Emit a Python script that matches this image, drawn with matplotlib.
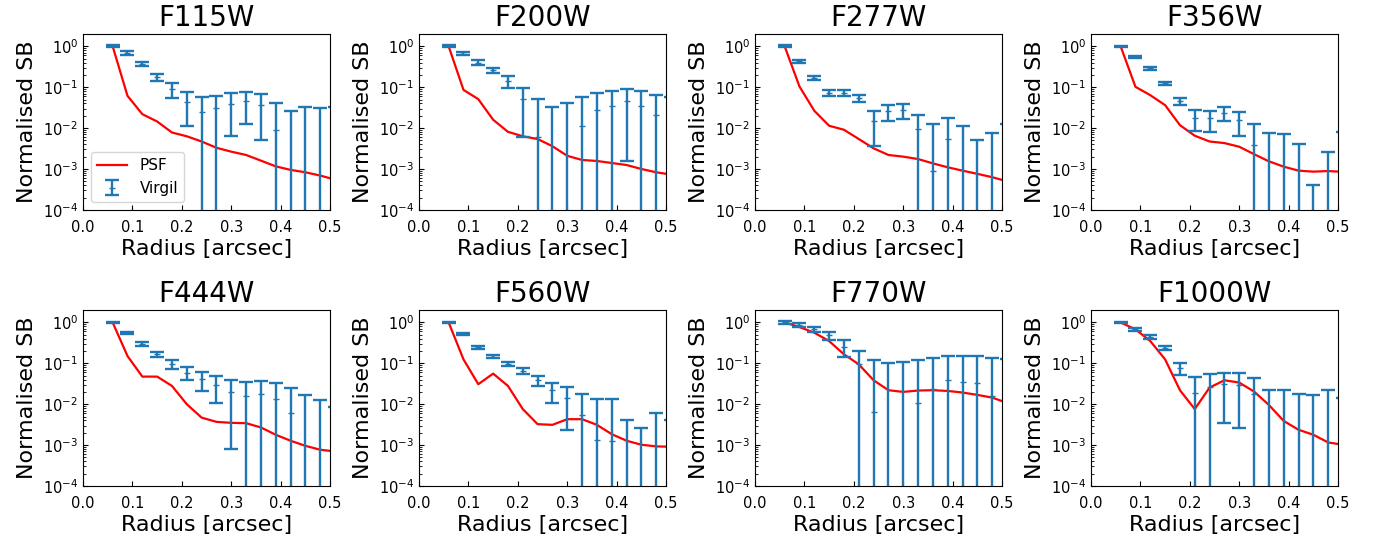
import numpy as np
import matplotlib
matplotlib.use("Agg")
import matplotlib.pyplot as plt

# radial bins [arcsec]
radius = [0.06, 0.09, 0.12, 0.15, 0.18, 0.21, 0.24, 0.27, 0.30, 0.33, 0.36, 0.39, 0.42, 0.45, 0.48, 0.51]

filters = ["F115W", "F200W", "F277W", "F356W", "F444W", "F560W", "F770W", "F1000W"]

# normalised PSF profiles
psf_f115w = [1.0, 0.0615, 0.0219, 0.0145, 0.0078, 0.0063, 0.0047, 0.0033, 0.00265, 0.0022, 0.0016, 0.00116, 0.00095, 0.00083, 0.00069, 0.00055]
psf_f200w = [1.0, 0.086, 0.051, 0.016, 0.0081, 0.0063, 0.0054, 0.0036, 0.0021, 0.00166, 0.00157, 0.0014, 0.00125, 0.001, 0.00083, 0.00073]
psf_f277w = [1.0, 0.104, 0.0265, 0.0114, 0.0091, 0.0054, 0.0032, 0.0022, 0.002, 0.00175, 0.00137, 0.0011, 0.00091, 0.00076, 0.00063, 0.0005]
psf_f356w = [1.0, 0.102, 0.0638, 0.0364, 0.0118, 0.0065, 0.0047, 0.0043, 0.0035, 0.0023, 0.00154, 0.00114, 0.00091, 0.00086, 0.00089, 0.00085]
psf_f444w = [1.0, 0.151, 0.0473, 0.0473, 0.028, 0.010, 0.0047, 0.0037, 0.0035, 0.00344, 0.0027, 0.00179, 0.00128, 0.00096, 0.00077, 0.0007]
psf_f560w = [1.0, 0.125, 0.0308, 0.056, 0.028, 0.0076, 0.00325, 0.00313, 0.0043, 0.0043, 0.00313, 0.00185, 0.00128, 0.00102, 0.00093, 0.00091]
psf_f770w = [1.0, 0.77, 0.56, 0.35, 0.166, 0.0946, 0.0385, 0.022, 0.020, 0.0216, 0.022, 0.0211, 0.0193, 0.0169, 0.0145, 0.0108]
psf_f1000w = [1.0, 0.675, 0.35, 0.125, 0.022, 0.0076, 0.0255, 0.0385, 0.0338, 0.0204, 0.0096, 0.0039, 0.00237, 0.00179, 0.00116, 0.00102]

# Virgil profiles and their errors
vir_f115w = [1.0, 0.70, 0.378, 0.179, 0.089, 0.044, 0.025, 0.0308, 0.0385, 0.0447, 0.037, 0.0091, -0.006, -0.001, -0.002, -0.001]
err_f115w = [0.05, 0.07, 0.045, 0.036, 0.036, 0.033, 0.031, 0.031, 0.032, 0.032, 0.032, 0.033, 0.0315, 0.033, 0.033, 0.033]
vir_f200w = [1.0, 0.662, 0.40, 0.26, 0.143, 0.051, 0.0061, -0.012, -0.002, 0.011, 0.028, 0.035, 0.0456, 0.035, 0.0211, 0.012]
err_f200w = [0.05, 0.065, 0.056, 0.042, 0.046, 0.045, 0.045, 0.044, 0.044, 0.045, 0.045, 0.045, 0.044, 0.045, 0.044, 0.044]
vir_f277w = [1.0, 0.43, 0.172, 0.074, 0.074, 0.054, 0.0151, 0.0255, 0.0275, 0.0095, 0.00091, 0.0054, -0.0005, -0.006, -0.004, 0.001]
err_f277w = [0.05, 0.04, 0.02, 0.012, 0.012, 0.011, 0.0114, 0.011, 0.011, 0.011, 0.0116, 0.0118, 0.0115, 0.0112, 0.0115, 0.0115]
vir_f356w = [1.0, 0.55, 0.29, 0.125, 0.0447, 0.018, 0.0172, 0.024, 0.0157, 0.0038, -0.001, -0.0015, -0.0045, -0.0082, -0.006, -0.0008]
err_f356w = [0.04, 0.02, 0.02, 0.012, 0.009, 0.0095, 0.0092, 0.009, 0.0094, 0.0087, 0.0085, 0.0087, 0.0086, 0.0086, 0.0086, 0.0086]
vir_f444w = [1.0, 0.56, 0.30, 0.166, 0.0946, 0.0592, 0.041, 0.030, 0.0204, 0.016, 0.0182, 0.0137, 0.006, -0.0025, -0.0065, -0.0104]
err_f444w = [0.05, 0.03, 0.03, 0.023, 0.023, 0.021, 0.02, 0.019, 0.0196, 0.019, 0.019, 0.019, 0.0195, 0.019, 0.019, 0.019]
vir_f560w = [1.0, 0.51, 0.25, 0.145, 0.098, 0.065, 0.039, 0.0224, 0.014, 0.0055, 0.00132, 0.00123, -0.008, -0.0094, -0.006, -0.008]
err_f560w = [0.05, 0.03, 0.02, 0.013, 0.012, 0.011, 0.011, 0.0115, 0.0117, 0.012, 0.0119, 0.012, 0.012, 0.012, 0.012, 0.012]
vir_f770w = [1.0, 0.86, 0.675, 0.48, 0.257, 0.0946, 0.0065, -0.008, -0.005, 0.0106, 0.024, 0.0385, 0.0357, 0.0338, 0.016, 0.01]
err_f770w = [0.08, 0.1, 0.1, 0.1, 0.114, 0.105, 0.112, 0.112, 0.112, 0.11, 0.113, 0.113, 0.112, 0.114, 0.116, 0.115]
vir_f1000w = [1.0, 0.675, 0.447, 0.241, 0.078, 0.0193, 0.027, 0.0305, 0.0296, 0.0175, -0.005, -0.005, -0.009, -0.010, -0.005, -0.013]
err_f1000w = [0.05, 0.06, 0.05, 0.03, 0.025, 0.027, 0.027, 0.027, 0.027, 0.027, 0.027, 0.027, 0.027, 0.027, 0.027, 0.027]

psfs = [psf_f115w, psf_f200w, psf_f277w, psf_f356w, psf_f444w, psf_f560w, psf_f770w, psf_f1000w]
virs = [vir_f115w, vir_f200w, vir_f277w, vir_f356w, vir_f444w, vir_f560w, vir_f770w, vir_f1000w]
errs = [err_f115w, err_f200w, err_f277w, err_f356w, err_f444w, err_f560w, err_f770w, err_f1000w]

fig, axes = plt.subplots(2, 4, figsize=(13.79, 5.37), dpi=100)
fig.subplots_adjust(left=0.0602, right=0.9703, top=0.9367, bottom=0.095, wspace=0.36, hspace=0.57)

for i, ax in enumerate(axes.flat):
    ax.plot(radius, psfs[i], color="red", lw=1.6, label="PSF")
    ax.errorbar(radius, virs[i], yerr=errs[i], fmt="_", ms=5, color="#1f77b4",
                elinewidth=1.7, capsize=5, capthick=1.7, label="Virgil")
    ax.set_yscale("log")
    ax.set_ylim(1e-4, 2)
    ax.set_xlim(0, 0.5)
    ax.set_xticks([0.0, 0.1, 0.2, 0.3, 0.4, 0.5])
    ax.set_yticks([1e-4, 1e-3, 1e-2, 1e-1, 1e0])
    ax.tick_params(which="both", direction="in", labelsize=10.5)
    ax.tick_params(axis="x", pad=7)
    ax.set_title(filters[i], fontsize=20)
    ax.set_xlabel("Radius [arcsec]", fontsize=16, labelpad=3)
    ax.set_ylabel("Normalised SB", fontsize=16)
    if i == 0:
        ax.legend(loc="lower left", fontsize=11)

fig.savefig("out.png", dpi=100)
